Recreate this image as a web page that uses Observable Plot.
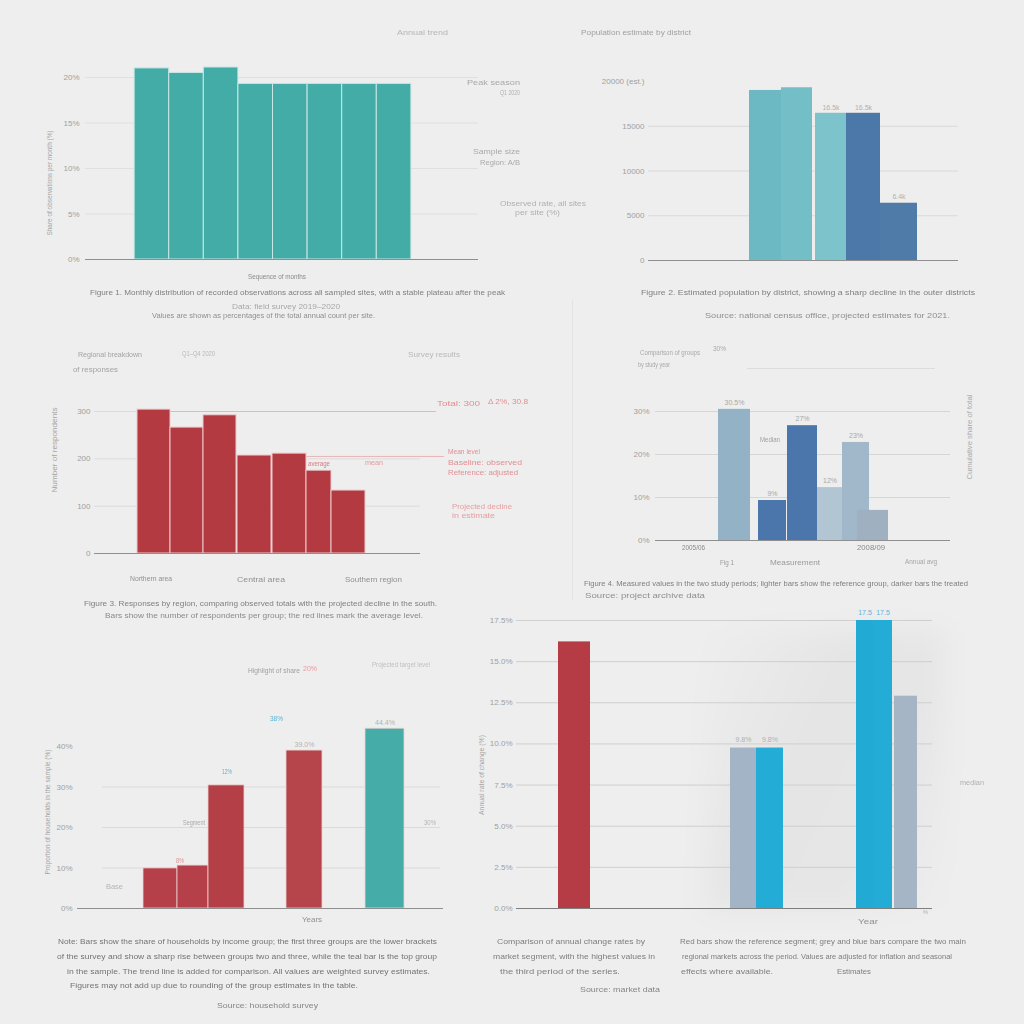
<!DOCTYPE html>
<html><head><meta charset="utf-8">
<script src="https://cdn.jsdelivr.net/npm/d3@7"></script>
<script src="https://cdn.jsdelivr.net/npm/@observablehq/plot@0.6"></script>
<style>
html,body{margin:0;padding:0;background:#eeeeee;}
#root{position:relative;width:1024px;height:1024px;overflow:hidden;background:#eeeeee;font-family:"Liberation Sans",Arial,sans-serif;}
.t{position:absolute;white-space:nowrap;line-height:1;transform-origin:0 50%;}
.v{position:absolute;white-space:nowrap;line-height:1;transform-origin:50% 50%;}
svg{position:absolute;overflow:visible;}
</style></head><body><div id="root"></div>
<script>
// ---------- DATA ----------
// Panel 1 (teal histogram)
const p1Start = [0, 1, 2, 3, 4, 5, 6, 7];
const p1End   = [1, 2, 3, 4, 5, 6, 7, 8];
const p1Values = [21.0, 20.5, 21.1, 19.3, 19.3, 19.3, 19.3, 19.3];
const p1Ticks = [0, 5, 10, 15, 20];

// Panel 2 (teal / blue)
const p2Start = [10.1, 13.3, 16.7, 19.8, 23.2];
const p2End   = [13.3, 16.4, 19.8, 23.2, 26.9];
const p2Values = [19000, 19300, 16450, 16450, 6400];
const p2Labels = ["", "", "16.5k", "16.5k", "6.4k"];
const p2Ticks = [0, 5000, 10000, 15000, 20000];

// Panel 3 (red)
const p3Start = [4.3, 7.6, 10.9, 14.3, 17.8, 21.2, 23.7];
const p3End   = [7.6, 10.9, 14.2, 17.7, 21.2, 23.7, 27.1];
const p3Values = [304, 266, 292, 207, 211, 175, 133];
const p3Ticks = [0, 100, 200, 300];

// Panel 4 (blue-gray)
const p4Start = [6.3, 10.3, 13.2, 16.2, 18.7, 20.2];
const p4End   = [9.5, 13.1, 16.2, 18.7, 21.4, 23.3];
const p4Values = [30.5, 9.3, 26.7, 12.3, 22.8, 7.0];
const p4Labels = ["30.5%", "9%", "27%", "12%", "23%", ""];
const p4Ticks = [0, 10, 20, 30];
const p4Grid = [10, 20, 30];

// Panel 5 (red + teal)
const p5Start = [6.6, 10.0, 13.1, 20.9, 28.8];
const p5End   = [10.0, 13.1, 16.7, 24.5, 32.7];
const p5Values = [9.9, 10.6, 30.4, 39.0, 44.4];
const p5Labels = ["", "", "", "39.0%", "44.4%"];
const p5Ticks = [0, 10, 20, 30, 40];

// Panel 6 (red, gray, cyan)
const p6Start = [4.2, 21.4, 24.0, 34.0, 35.7, 37.8];
const p6End   = [7.4, 24.0, 26.7, 35.7, 37.6, 40.1];
const p6Values = [16.2, 9.75, 9.75, 17.5, 17.5, 12.9];
const p6Labels = ["", "9.8%", "9.8%", "17.5", "17.5", ""];
const p6Ticks = [0, 2.5, 5, 7.5, 10, 12.5, 15, 17.5];

// ---------- STYLES ----------
const p2Palette = ["#6cb8c3", "#74bec8", "#7dc3cb", "#4b78a9", "#4e7ba7"];
const p4Palette = ["#93b2c5", "#4a76ab", "#4a76ab", "#b1c5d3", "#a0b8ca", "#9fb1c1"];
const p5Palette = ["#b5404a", "#b5404a", "#b53f47", "#b5444b", "#46aca8"];
const p6Palette = ["#b53c44", "#a3b4c6", "#22acd6", "#20aad4", "#22acd6", "#a6b5c6"];

// ---------- HELPERS ----------
const root = document.getElementById("root");
function label(str, x, y, w, o = {}) {
  const size = o.size || 8;
  const d = document.createElement("div");
  d.className = "t"; d.textContent = str;
  d.style.fontSize = size + "px";
  d.style.color = o.color || "#8f8f8f";
  root.appendChild(d);
  const m = d.getBoundingClientRect().width || 1;
  d.style.left = x + "px";
  d.style.top = (y - size / 2) + "px";
  d.style.transform = `scaleX(${w / m})`;
}
function vlabel(str, cx, cy, len, o = {}) {
  const size = o.size || 8;
  const d = document.createElement("div");
  d.className = "v"; d.textContent = str;
  d.style.fontSize = size + "px";
  d.style.color = o.color || "#a5a5a5";
  root.appendChild(d);
  const m = d.getBoundingClientRect().width || 1;
  d.style.left = (cx - m / 2) + "px";
  d.style.top = (cy - size / 2) + "px";
  d.style.transform = `rotate(-90deg) scaleX(${len / m})`;
}
function bars(start, end, values, labels) {
  return start.map((s, i) => ({x1: s, x2: end[i], v: values[i], i, lab: labels ? labels[i] : ""}));
}
function panel(cfg) {
  const {left, top, width, height, fx0, fx1, fy0, fy1, xDomain, yDomain, marks} = cfg;
  const svg = Plot.plot({
    width, height,
    marginLeft: fx0 - left, marginRight: left + width - fx1,
    marginTop: fy1 - top, marginBottom: top + height - fy0,
    x: {type: "linear", domain: xDomain || [0, (fx1 - fx0) / 10], axis: null},
    y: {type: "linear", domain: yDomain},
    color: {type: "identity"},
    style: {background: "transparent", fontSize: "8px", color: "#a0a0a0", fontFamily: "Liberation Sans, Arial, sans-serif", overflow: "visible"},
    marks
  });
  svg.style.left = left + "px";
  svg.style.top = top + "px";
  root.appendChild(svg);
}
function yAxis(ticks, fmt, pad) {
  return Plot.axisY(ticks, {tickSize: 0, tickPadding: pad, tickFormat: fmt, label: null, fontSize: 8});
}

// ---------- PANEL 1 ----------
panel({
  left: 30, top: 40, width: 460, height: 240,
  fx0: 85, fx1: 478, fy0: 259, fy1: 77,
  xDomain: [-1.42, 9.94], yDomain: [0, 20],
  marks: [
    Plot.ruleY(p1Ticks.slice(1), {stroke: "#dfdfdf"}),
    Plot.rectY(bars(p1Start, p1End, p1Values), {x1: "x1", x2: "x2", y: "v", fill: "#44aca7", stroke: "#c9e7e4", strokeWidth: 1}),
    Plot.ruleY([0], {stroke: "#8e8e8e"}),
    yAxis(p1Ticks, d => d + "%", 6)
  ]
});
vlabel("Share of observations per month (%)", 50, 183, 105);
label("Annual trend", 397, 33, 51, {color: "#b5b5b5"});
label("Peak season", 467, 83, 53, {color: "#a9a9a9"});
label("Q1 2020", 500, 92, 20, {color: "#b0b0b0", size: 7});
label("Sample size", 473, 152, 47, {color: "#a9a9a9"});
label("Region: A/B", 480, 163, 40, {color: "#a9a9a9"});
label("Observed rate, all sites", 500, 203, 86, {color: "#b0b0b0", size: 7});
label("per site (%)", 515, 212, 45, {color: "#b0b0b0", size: 7});
label("Sequence of months", 248, 277, 58, {color: "#8a8a8a"});
label("Figure 1. Monthly distribution of recorded observations across all sampled sites, with a stable plateau after the peak", 90, 293, 415, {color: "#7f7f7f"});
label("Data: field survey 2019–2020", 232, 307, 108, {color: "#a8a8a8"});
label("Values are shown as percentages of the total annual count per site.", 152, 316, 223, {color: "#8f8f8f"});

// ---------- PANEL 2 ----------
panel({
  left: 570, top: 40, width: 420, height: 240,
  fx0: 648, fx1: 958, fy0: 260, fy1: 81,
  yDomain: [0, 20000],
  marks: [
    Plot.ruleY(p2Ticks.slice(1, 4), {stroke: "#d9d9d9"}),
    Plot.rectY(bars(p2Start, p2End, p2Values, p2Labels), {x1: "x1", x2: "x2", y: "v", fill: (d) => p2Palette[d.i]}),
    Plot.text(bars(p2Start, p2End, p2Values, p2Labels), {x: d => (d.x1 + d.x2) / 2, y: "v", text: "lab", dy: -6, fontSize: 7, fill: "#b0b0b0"}),
    Plot.ruleY([0], {stroke: "#8e8e8e"}),
    yAxis(p2Ticks, d => d === 20000 ? "20000 (est.)" : String(d), 4)
  ]
});
label("Population estimate by district", 581, 33, 110, {color: "#a0a0a0"});
label("Figure 2. Estimated population by district, showing a sharp decline in the outer districts", 641, 293, 334, {color: "#7f7f7f"});
label("Source: national census office, projected estimates for 2021.", 705, 316, 245, {color: "#8f8f8f"});

// ---------- PANEL 3 ----------
panel({
  left: 40, top: 340, width: 500, height: 240,
  fx0: 94, fx1: 420, fy0: 553, fy1: 411,
  yDomain: [0, 300],
  marks: [
    Plot.ruleY(p3Ticks.slice(1), {stroke: "#dcdcdc"}),
    Plot.ruleY([300], {x1: 7.6, x2: 34.2, stroke: "#eab4b6"}),
    Plot.ruleY([205], {x1: 21, x2: 35, stroke: "#eab4b6"}),
    Plot.rectY(bars(p3Start, p3End, p3Values), {x1: "x1", x2: "x2", y: "v", fill: "#b43a41", stroke: "#ecc9cb", strokeWidth: 1}),
    Plot.ruleY([0], {stroke: "#8e8e8e"}),
    yAxis(p3Ticks, d => String(d), 4)
  ]
});
vlabel("Number of respondents", 55, 450, 85);
label("Regional breakdown", 78, 355, 64, {color: "#a3a3a3"});
label("of responses", 73, 370, 45, {color: "#a3a3a3"});
label("Q1–Q4 2020", 182, 354, 33, {color: "#b8b8b8"});
label("Survey results", 408, 355, 52, {color: "#b8b8b8"});
label("Total: 300", 437, 403, 43, {color: "#e38d91", size: 7});
label("Δ 2%, 30.8", 488, 401, 40, {color: "#e38d91", size: 7});
label("Mean level", 448, 452, 32, {color: "#e38d91"});
label("Baseline: observed", 448, 463, 74, {color: "#e38d91"});
label("Reference: adjusted", 448, 473, 70, {color: "#e38d91"});
label("Projected decline", 452, 507, 60, {color: "#e79da0"});
label("in estimate", 452, 516, 43, {color: "#e79da0"});
label("average", 308, 463, 22, {color: "#d87a7f", size: 7});
label("mean", 365, 462, 18, {color: "#e39a9d", size: 7});
label("Northern area", 130, 579, 42, {color: "#909090"});
label("Central area", 237, 579, 48, {color: "#909090", size: 7});
label("Southern region", 345, 579, 57, {color: "#909090", size: 7});
label("Figure 3. Responses by region, comparing observed totals with the projected decline in the south.", 84, 604, 353, {color: "#7f7f7f"});
label("Bars show the number of respondents per group; the red lines mark the average level.", 105, 616, 318, {color: "#8a8a8a"});

// ---------- PANEL 4 ----------
const divider = document.createElement("div");
Object.assign(divider.style, {position: "absolute", left: "572px", top: "300px", width: "1px", height: "300px", background: "#e2e2e2"});
root.appendChild(divider);
panel({
  left: 575, top: 340, width: 420, height: 230,
  fx0: 655, fx1: 950, fy0: 540, fy1: 368,
  yDomain: [0, 40],
  marks: [
    Plot.ruleY(p4Grid, {stroke: "#d6d6d6"}),
    Plot.ruleY([40], {x1: 9.2, x2: 28, stroke: "#dcdcdc"}),
    Plot.rectY(bars(p4Start, p4End, p4Values, p4Labels), {x1: "x1", x2: "x2", y: "v", fill: (d) => p4Palette[d.i]}),
    Plot.text(bars(p4Start, p4End, p4Values, p4Labels), {x: d => (d.x1 + d.x2) / 2, y: "v", text: "lab", dy: -7, fontSize: 7, fill: "#a8a8a8"}),
    Plot.ruleY([0], {stroke: "#8e8e8e"}),
    yAxis(p4Ticks, d => d + "%", 6)
  ]
});
label("Comparison of groups", 640, 352, 60, {color: "#a8a8a8", size: 7});
label("by study year", 638, 364, 32, {color: "#a8a8a8", size: 7});
label("30%", 713, 348, 13, {color: "#a8a8a8", size: 7});
label("Median", 760, 439, 20, {color: "#a0a0a0", size: 7});
label("2005/06", 682, 548, 23, {color: "#8a8a8a"});
label("2008/09", 857, 548, 28, {color: "#8a8a8a"});
label("Fig 1", 720, 562, 14, {color: "#9a9a9a", size: 7});
label("Measurement", 770, 562, 50, {color: "#9a9a9a", size: 7});
label("Annual avg", 905, 562, 32, {color: "#a5a5a5"});
vlabel("Cumulative share of total", 970, 437, 85, {color: "#aaaaaa"});
label("Figure 4. Measured values in the two study periods; lighter bars show the reference group, darker bars the treated", 584, 584, 384, {color: "#7f7f7f"});
label("Source: project archive data", 585, 595, 120, {color: "#8f8f8f", size: 7});

// ---------- PANEL 5 ----------
panel({
  left: 30, top: 650, width: 440, height: 270,
  fx0: 77, fx1: 443, fy0: 908, fy1: 746,
  yDomain: [0, 40],
  marks: [
    Plot.ruleY(p5Ticks.slice(1, 4), {x1: 2.5, x2: 36.3, stroke: "#dadada"}),
    Plot.rectY(bars(p5Start, p5End, p5Values, p5Labels), {x1: "x1", x2: "x2", y: "v", fill: (d) => p5Palette[d.i], stroke: "#ecd2d3", strokeWidth: 0.8}),
    Plot.text(bars(p5Start, p5End, p5Values, p5Labels), {x: d => (d.x1 + d.x2) / 2, y: "v", text: "lab", dy: -6, fontSize: 7, fill: "#b3b3b3"}),
    Plot.ruleY([0], {stroke: "#8e8e8e"}),
    yAxis(p5Ticks, d => d + "%", 5)
  ]
});
vlabel("Proportion of households in the sample (%)", 48, 812, 125);
label("Highlight of share", 248, 671, 52, {color: "#a0a0a0"});
label("20%", 303, 669, 14, {color: "#e59a9d"});
label("Projected target level", 372, 665, 58, {color: "#c0c0c0"});
label("38%", 270, 719, 13, {color: "#56b4d9"});
label("12%", 222, 772, 10, {color: "#56b4d9"});
label("Segment", 183, 822, 22, {color: "#aaaaaa", size: 7});
label("8%", 176, 860, 8, {color: "#e08e92", size: 7});
label("Base", 106, 886, 17, {color: "#b5b5b5", size: 7});
label("30%", 424, 822, 12, {color: "#b5b5b5", size: 7});
label("Years", 302, 920, 20, {color: "#8f8f8f"});
label("Note: Bars show the share of households by income group; the first three groups are the lower brackets", 58, 942, 379, {color: "#737373"});
label("of the survey and show a sharp rise between groups two and three, while the teal bar is the top group", 57, 957, 380, {color: "#737373"});
label("in the sample. The trend line is added for comparison. All values are weighted survey estimates.", 67, 972, 363, {color: "#737373"});
label("Figures may not add up due to rounding of the group estimates in the table.", 70, 986, 288, {color: "#737373"});
label("Source: household survey", 217, 1006, 101, {color: "#858585"});

// ---------- PANEL 6 ----------
const shade = document.createElement("div");
Object.assign(shade.style, {position: "absolute", left: "705px", top: "630px", width: "240px", height: "280px",
  background: "linear-gradient(115deg, rgba(0,0,0,0) 0%, rgba(0,0,0,0.035) 40%, rgba(0,0,0,0.03) 70%, rgba(0,0,0,0) 100%)", filter: "blur(14px)"});
root.appendChild(shade);
panel({
  left: 470, top: 600, width: 540, height: 320,
  fx0: 516, fx1: 932, fy0: 908, fy1: 620,
  xDomain: [0, 41.6], yDomain: [0, 17.5],
  marks: [
    Plot.ruleY(p6Ticks.slice(1), {stroke: "#cfcfcf"}),
    Plot.rectY(bars(p6Start, p6End, p6Values, p6Labels), {x1: "x1", x2: "x2", y: "v", fill: (d) => p6Palette[d.i]}),
    Plot.text(bars(p6Start, p6End, p6Values, p6Labels), {x: d => (d.x1 + d.x2) / 2, y: "v", text: "lab", dy: -8, fontSize: 7, fill: (d) => d.i >= 3 ? "#58b6de" : "#b0b0b0"}),
    Plot.ruleY([0], {stroke: "#7e7e7e"}),
    yAxis(p6Ticks, d => d.toFixed(1) + "%", 4)
  ]
});
vlabel("Annual rate of change (%)", 482, 775, 80);
label("Year", 858, 922, 20, {color: "#8f8f8f"});
label("%", 923, 912, 5, {color: "#b0b0b0", size: 6});
label("median", 960, 782, 24, {color: "#b0b0b0", size: 7});
label("Comparison of annual change rates by", 497, 942, 148, {color: "#7d7d7d"});
label("market segment, with the highest values in", 493, 957, 162, {color: "#7d7d7d"});
label("the third period of the series.", 500, 972, 120, {color: "#7d7d7d"});
label("Source: market data", 580, 990, 80, {color: "#858585"});
label("Red bars show the reference segment; grey and blue bars compare the two main", 680, 942, 286, {color: "#7d7d7d"});
label("regional markets across the period. Values are adjusted for inflation and seasonal", 682, 957, 270, {color: "#7d7d7d"});
label("effects where available.", 681, 972, 92, {color: "#7d7d7d"});
label("Estimates", 837, 972, 34, {color: "#7d7d7d"});
</script></body></html>
